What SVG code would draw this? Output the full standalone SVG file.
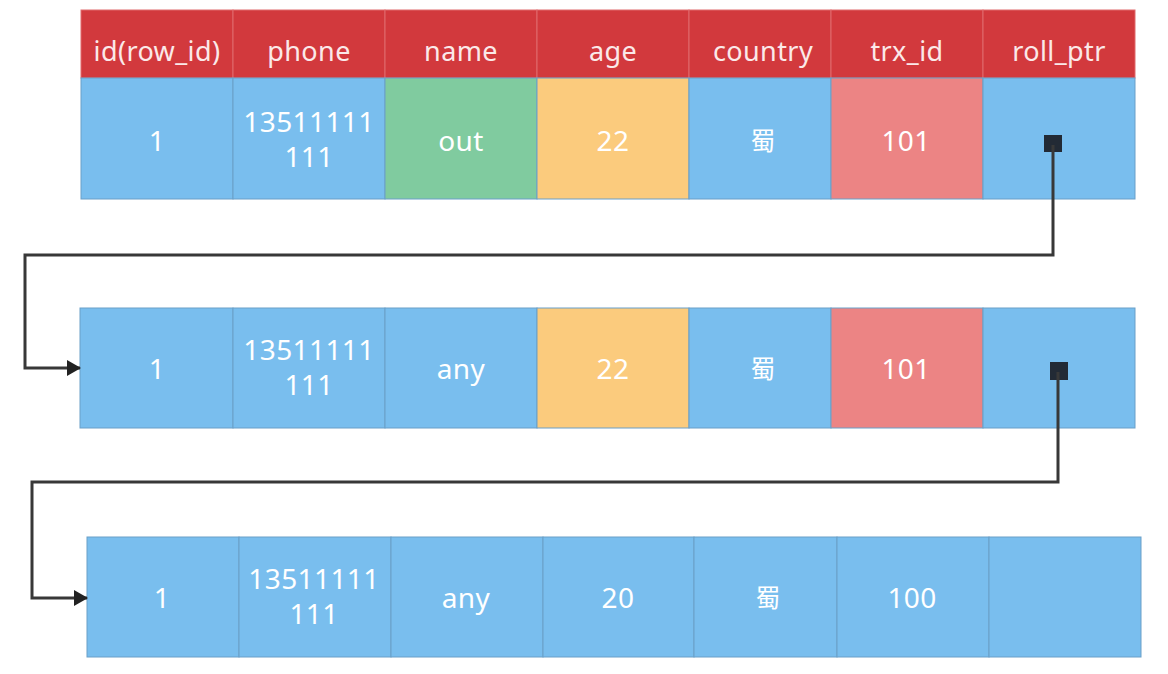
<svg xmlns="http://www.w3.org/2000/svg" width="1168" height="674" viewBox="0 0 1168 674">
<defs>
<style>
.hd{fill:#D2393D;stroke:#E06A6C;stroke-width:1}
.b{fill:#79BEEE;stroke:#6A9FC8;stroke-width:1}
.g{fill:#80CB9F;stroke:#6A9FC8;stroke-width:1}
.o{fill:#FBCB7D;stroke:#6A9FC8;stroke-width:1}
.p{fill:#EC8484;stroke:#6A9FC8;stroke-width:1}
text{font-family:"Noto Sans","Open Sans","Noto Sans CJK SC",sans-serif;fill:#FFFFFF;text-anchor:middle}
.ht{font-size:27px;letter-spacing:0.4px;fill:#FBE9E9}
.t{font-size:28px;letter-spacing:0.4px}
.c{font-size:25px;font-family:"Noto Sans CJK SC",sans-serif}
.ln{fill:none;stroke:#383838;stroke-width:3}
.sq{fill:#222A35}
</style>
<marker id="ar" markerWidth="14" markerHeight="16" refX="13" refY="8" orient="auto" markerUnits="userSpaceOnUse" viewBox="0 0 14 16">
<path d="M0,0 L14,8 L0,16 z" fill="#222222"/>
</marker>
</defs>
<rect width="1168" height="674" fill="#FFFFFF"/>

<g id="header">
<rect class="hd" x="81" y="10" width="152" height="68"/>
<rect class="hd" x="233" y="10" width="152" height="68"/>
<rect class="hd" x="385" y="10" width="152" height="68"/>
<rect class="hd" x="537" y="10" width="152" height="68"/>
<rect class="hd" x="689" y="10" width="142" height="68"/>
<rect class="hd" x="831" y="10" width="152" height="68"/>
<rect class="hd" x="983" y="10" width="152" height="68"/>
<text class="ht" x="157" y="61">id(row_id)</text>
<text class="ht" x="309" y="61">phone</text>
<text class="ht" x="461" y="61">name</text>
<text class="ht" x="613" y="61">age</text>
<text class="ht" x="763" y="61">country</text>
<text class="ht" x="907" y="61">trx_id</text>
<text class="ht" x="1059" y="61">roll_ptr</text>
</g>

<g id="row1">
<rect class="b" x="81" y="78" width="152" height="121"/>
<rect class="b" x="233" y="78" width="152" height="121"/>
<rect class="g" x="385" y="78" width="152" height="121"/>
<rect class="o" x="537" y="78" width="152" height="121"/>
<rect class="b" x="689" y="78" width="142" height="121"/>
<rect class="p" x="831" y="78" width="152" height="121"/>
<rect class="b" x="983" y="78" width="152" height="121"/>
<text class="t" x="157" y="151">1</text>
<text class="t" x="309" y="132">13511111</text>
<text class="t" x="309" y="167">111</text>
<text class="t" x="461" y="151">out</text>
<text class="t" x="613" y="151">22</text>
<text class="c" x="763" y="150">蜀</text>
<text class="t" x="906" y="151">101</text>
<rect class="sq" x="1044" y="135" width="18" height="17"/>
</g>

<g id="row2">
<rect class="b" x="80" y="308" width="153" height="120"/>
<rect class="b" x="233" y="308" width="152" height="120"/>
<rect class="b" x="385" y="308" width="152" height="120"/>
<rect class="o" x="537" y="308" width="152" height="120"/>
<rect class="b" x="689" y="308" width="142" height="120"/>
<rect class="p" x="831" y="308" width="152" height="120"/>
<rect class="b" x="983" y="308" width="152" height="120"/>
<text class="t" x="157" y="379">1</text>
<text class="t" x="309" y="360">13511111</text>
<text class="t" x="309" y="395">111</text>
<text class="t" x="461" y="379">any</text>
<text class="t" x="613" y="379">22</text>
<text class="c" x="763" y="378">蜀</text>
<text class="t" x="906" y="379">101</text>
<rect class="sq" x="1050" y="362" width="18" height="18"/>
</g>

<g id="row3">
<rect class="b" x="87" y="537" width="152" height="120"/>
<rect class="b" x="239" y="537" width="152" height="120"/>
<rect class="b" x="391" y="537" width="152" height="120"/>
<rect class="b" x="543" y="537" width="151" height="120"/>
<rect class="b" x="694" y="537" width="143" height="120"/>
<rect class="b" x="837" y="537" width="152" height="120"/>
<rect class="b" x="989" y="537" width="152" height="120"/>
<text class="t" x="162" y="608">1</text>
<text class="t" x="314" y="589">13511111</text>
<text class="t" x="314" y="624">111</text>
<text class="t" x="466" y="608">any</text>
<text class="t" x="618" y="608">20</text>
<text class="c" x="768" y="607">蜀</text>
<text class="t" x="912" y="608">100</text>
</g>

<g id="connectors">
<path class="ln" d="M1053,145 V255 H25 V368 H80" marker-end="url(#ar)"/>
<path class="ln" d="M1058,372 V482 H32 V598 H87" marker-end="url(#ar)"/>
</g>
</svg>
